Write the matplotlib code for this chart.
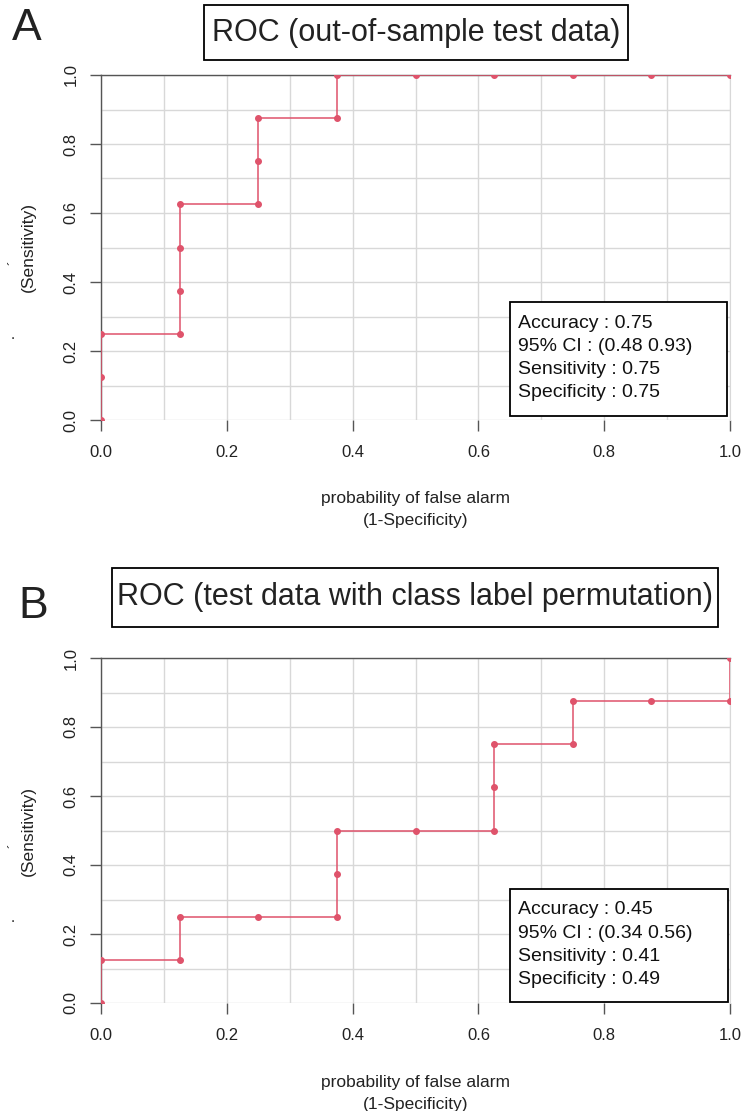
import numpy as np
import matplotlib
matplotlib.use('Agg')
import matplotlib.pyplot as plt
from matplotlib.patches import Rectangle

plt.rcParams['font.family'] = ['Liberation Sans', 'DejaVu Sans']

# ROC curve A (out-of-sample test data)
fpr_a = [0, 0, 0, 0.125, 0.125, 0.125, 0.125, 0.25, 0.25, 0.25, 0.375, 0.375, 0.5, 0.625, 0.75, 0.875, 1.0]
tpr_a = [0, 0.125, 0.25, 0.25, 0.375, 0.5, 0.625, 0.625, 0.75, 0.875, 0.875, 1.0, 1.0, 1.0, 1.0, 1.0, 1.0]
stats_a = ['Accuracy : 0.75', '95% CI : (0.48 0.93)', 'Sensitivity : 0.75', 'Specificity : 0.75']

# ROC curve B (class label permutation)
fpr_b = [0, 0, 0.125, 0.125, 0.25, 0.375, 0.375, 0.375, 0.5, 0.625, 0.625, 0.625, 0.75, 0.75, 0.875, 1.0, 1.0]
tpr_b = [0, 0.125, 0.125, 0.25, 0.25, 0.25, 0.375, 0.5, 0.5, 0.5, 0.625, 0.75, 0.75, 0.875, 0.875, 0.875, 1.0]
stats_b = ['Accuracy : 0.45', '95% CI : (0.34 0.56)', 'Sensitivity : 0.41', 'Specificity : 0.49']

titles = ['ROC (out-of-sample test data)', 'ROC (test data with class label permutation)']
letters = ['A', 'B']
ticks = [0.0, 0.2, 0.4, 0.6, 0.8, 1.0]

W, H = 745, 1111
fig = plt.figure(figsize=(W / 100, H / 100), dpi=100)

AX_L, AX_R = 101, 730


def px_axes(y0, y1):
    return fig.add_axes([AX_L / W, 1 - y1 / H, (AX_R - AX_L) / W, (y1 - y0) / H])


def draw_panel(ax, y_top, y_bot, fpr, tpr, stats, box_px):
    # helpers: pixel -> axes fraction
    ax_x = lambda px: (px - AX_L) / (AX_R - AX_L)
    ax_y = lambda py: (y_bot - py) / (y_bot - y_top)

    ax.set_xlim(0, 1)
    ax.set_ylim(0, 1)
    ax.set_xticks(np.arange(0, 1.01, 0.1), minor=True)
    ax.set_yticks(np.arange(0, 1.01, 0.1), minor=True)
    ax.grid(True, which='both', color='#d8d8d8', lw=1.0)
    ax.set_axisbelow(True)
    ax.tick_params(which='minor', length=0)
    ax.set_xticks(ticks)
    ax.set_yticks(ticks)
    ax.set_xticklabels([f'{t:.1f}' for t in ticks], fontsize=12, color='#222222')
    ax.set_yticklabels([f'{t:.1f}' for t in ticks], fontsize=12, color='#222222',
                       rotation=90, va='center')
    ax.tick_params(which='major', direction='out', length=8, width=1, color='#555555')
    ax.tick_params(axis='x', pad=10)
    ax.tick_params(axis='y', pad=8)
    for s in ['left', 'top']:
        ax.spines[s].set_color('#555555')
        ax.spines[s].set_linewidth(1.0)
    ax.spines['right'].set_color('#d8d8d8')
    ax.spines['bottom'].set_visible(False)

    ax.plot(fpr, tpr, color='#DF536B', lw=1.3, alpha=0.85, zorder=3)
    ax.plot(fpr, tpr, 'o', color='#DF536B', ms=4, zorder=4)

    # stats box
    bx0, by0, bx1, by1 = box_px
    ax.add_patch(Rectangle((ax_x(bx0), ax_y(by1)), ax_x(bx1) - ax_x(bx0), ax_y(by0) - ax_y(by1),
                           transform=ax.transAxes, fc='white', ec='black', lw=1.3,
                           zorder=5, clip_on=False))
    for i, line in enumerate(stats):
        ax.text(ax_x(bx0 + 8), ax_y(by0 + 21 + i * 23.3), line, transform=ax.transAxes,
                fontsize=14, ha='left', va='center', color='#111111', zorder=6)

    ax.text(0.5, ax_y(y_bot + 79), 'probability of false alarm', transform=ax.transAxes,
            ha='center', va='center', fontsize=12.5, color='#222222')
    ax.text(0.5, ax_y(y_bot + 101), '(1-Specificity)', transform=ax.transAxes,
            ha='center', va='center', fontsize=12.5, color='#222222')
    ax.text(ax_x(28), 0.5, '(Sensitivity)', transform=ax.transAxes, rotation=90,
            ha='center', va='center', fontsize=12.5, color='#222222')
    ax.text(ax_x(15), ax_y(y_top + 188), '´', transform=ax.transAxes, rotation=90,
            ha='center', va='center', fontsize=10, color='#222222')
    ax.text(ax_x(13), ax_y(y_top + 260), '.', transform=ax.transAxes,
            ha='center', va='center', fontsize=11, color='#222222')


ax_a = px_axes(75, 420)
draw_panel(ax_a, 75, 420, fpr_a, tpr_a, stats_a, (510, 302, 727, 416))
ax_b = px_axes(658, 1003)
draw_panel(ax_b, 658, 1003, fpr_b, tpr_b, stats_b, (510, 889, 728, 1002))

# panel titles (boxed) and letters
title_boxes = [(204, 5, 628, 60), (112, 568, 718, 627)]
for title, (x0, y0, x1, y1) in zip(titles, title_boxes):
    fig.patches.append(Rectangle((x0 / W, 1 - y1 / H), (x1 - x0) / W, (y1 - y0) / H,
                                 transform=fig.transFigure, fc='white', ec='black', lw=1.3))
    fig.text((x0 + x1) / 2 / W, 1 - (y0 + y1) / 2 / H, title, ha='center', va='center',
             fontsize=22, color='#222222')
fig.text(12 / W, 1 - 29 / H, letters[0], ha='left', va='center', fontsize=32, color='#222222')
fig.text(18 / W, 1 - 607 / H, letters[1], ha='left', va='center', fontsize=32, color='#222222')

fig.savefig('out.png', dpi=100)
